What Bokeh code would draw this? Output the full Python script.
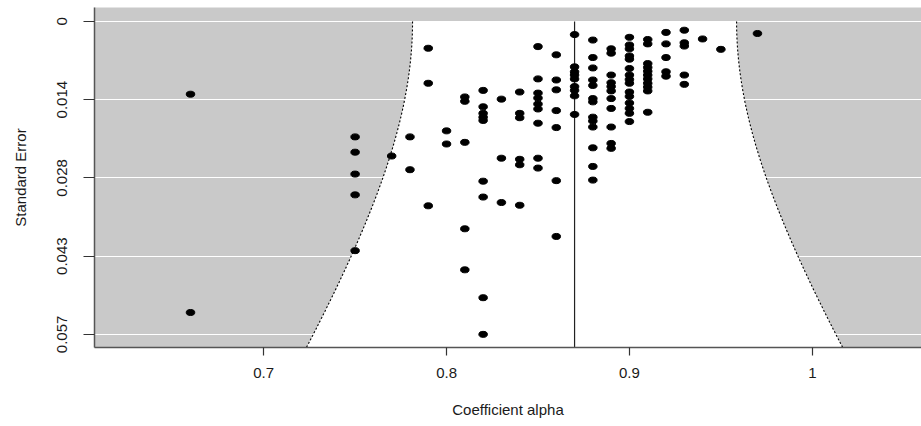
import numpy as np
from bokeh.plotting import figure
from bokeh.models import Range1d, FixedTicker, ColumnDataSource
from bokeh.embed import file_html
from bokeh.resources import INLINE

# ---- data: coefficient alpha columns and their standard errors ----
alpha_columns = [0.66, 0.75, 0.77, 0.78, 0.79, 0.80, 0.81, 0.82, 0.83, 0.84,
                 0.85, 0.86, 0.87, 0.88, 0.89, 0.90, 0.91, 0.92, 0.93, 0.94,
                 0.95, 0.97]
se_066 = [0.0133, 0.0532]
se_075 = [0.0211, 0.0239, 0.0279, 0.0317, 0.0419]
se_077 = [0.0246]
se_078 = [0.0211, 0.0271]
se_079 = [0.0049, 0.0113, 0.0337]
se_080 = [0.0200, 0.0224]
se_081 = [0.0138, 0.0146, 0.0221, 0.0379, 0.0454]
se_082 = [0.0126, 0.0156, 0.0168, 0.0175, 0.0181, 0.0292, 0.0321, 0.0505, 0.0572]
se_083 = [0.0142, 0.0250, 0.0331]
se_084 = [0.0129, 0.0168, 0.0176, 0.0252, 0.0262, 0.0336]
se_085 = [0.0046, 0.0105, 0.0131, 0.0140, 0.0151, 0.0160, 0.0186, 0.0250, 0.0268]
se_086 = [0.0061, 0.0107, 0.0125, 0.0163, 0.0194, 0.0291, 0.0393]
se_087 = [0.0024, 0.0083, 0.0092, 0.0098, 0.0105, 0.0119, 0.0126, 0.0136, 0.0170]
se_088 = [0.0034, 0.0066, 0.0085, 0.0107, 0.0117, 0.0141, 0.0147, 0.0175, 0.0182,
          0.0193, 0.0231, 0.0265, 0.0290]
se_089 = [0.0050, 0.0058, 0.0098, 0.0112, 0.0119, 0.0127, 0.0141, 0.0159, 0.0193,
          0.0223, 0.0232]
se_090 = [0.0029, 0.0043, 0.0050, 0.0063, 0.0069, 0.0086, 0.0098, 0.0106, 0.0113,
          0.0129, 0.0137, 0.0149, 0.0159, 0.0168, 0.0183]
se_091 = [0.0033, 0.0041, 0.0077, 0.0084, 0.0091, 0.0098, 0.0105, 0.0113, 0.0120,
          0.0127, 0.0166]
se_092 = [0.0020, 0.0041, 0.0066, 0.0092, 0.0100]
se_093 = [0.0016, 0.0039, 0.0045, 0.0098, 0.0115]
se_094 = [0.0032]
se_095 = [0.0051]
se_097 = [0.0022]
se_columns = [se_066, se_075, se_077, se_078, se_079, se_080, se_081, se_082,
              se_083, se_084, se_085, se_086, se_087, se_088, se_089, se_090,
              se_091, se_092, se_093, se_094, se_095, se_097]

# model summary (random-effects estimate and between-study SD)
estimate = 0.87
tau = 0.0452

x_ticks = [0.7, 0.8, 0.9, 1.0]
x_tick_labels = ["0.7", "0.8", "0.9", "1"]
y_ticks = [0.0, 0.0143, 0.0286, 0.0429, 0.0572]
y_tick_labels = ["0", "0.014", "0.028", "0.043", "0.057"]

alpha_vals, se_vals = [], []
for a, ses in zip(alpha_columns, se_columns):
    for s in ses:
        alpha_vals.append(a)
        se_vals.append(s)
src = ColumnDataSource(dict(alpha=alpha_vals, se=se_vals))

FONT = "Liberation Sans"
GREY = "#c9c9c9"
Y_BOTTOM = 0.0596
Y_TOP = -0.00255

p = figure(width=921, height=420, output_backend="svg", toolbar_location=None,
           x_range=Range1d(0.6075, 1.0597), y_range=Range1d(Y_BOTTOM, Y_TOP),
           min_border_left=94, min_border_right=0, min_border_top=7,
           min_border_bottom=72)
p.background_fill_color = GREY
p.border_fill_color = "white"
p.outline_line_color = None

# grid (white horizontal lines at the y ticks)
p.xgrid.visible = False
p.ygrid.ticker = FixedTicker(ticks=y_ticks)
p.ygrid.grid_line_color = "white"
p.ygrid.grid_line_width = 1.2

# funnel region
se_grid = np.linspace(0.0, 0.0625, 120)
half = 1.96 * np.sqrt(se_grid ** 2 + tau ** 2)
left = estimate - half
right = estimate + half
p.patch(np.concatenate([left, right[::-1]]), np.concatenate([se_grid, se_grid[::-1]]),
        fill_color="white", line_color=None)
p.line(left, se_grid, line_color="black", line_width=1.1, line_dash="2 2")
p.line(right, se_grid, line_color="black", line_width=1.1, line_dash="2 2")
p.segment(x0=[estimate], y0=[0.0], x1=[estimate], y1=[0.0625],
          line_color="#222222", line_width=1.2)

# studies
p.ellipse(x="alpha", y="se", width=8.5, height=6, width_units="screen",
          height_units="screen", fill_color="black", line_color="black", source=src)

# axes
for ax in (p.xaxis[0], p.yaxis[0]):
    ax.axis_line_color = "#555555"
    ax.axis_line_width = 1.5
    ax.major_tick_line_color = "#333333"
    ax.major_tick_line_width = 1.2
    ax.major_tick_in = 0
    ax.minor_tick_line_color = None
    ax.major_label_text_font = FONT
    ax.major_label_text_font_size = "15px"
    ax.major_label_text_color = "#1a1a1a"
    ax.axis_label_text_font = FONT
    ax.axis_label_text_font_size = "15px"
    ax.axis_label_text_font_style = "normal"
    ax.axis_label_text_color = "#1a1a1a"

p.xaxis.ticker = FixedTicker(ticks=x_ticks)
p.xaxis.major_label_overrides = dict(zip(x_ticks, x_tick_labels))
p.xaxis.major_tick_out = 8
p.xaxis.major_label_standoff = 12
p.xaxis.axis_label = "Coefficient alpha"
p.xaxis.axis_label_standoff = 20

p.yaxis.ticker = FixedTicker(ticks=y_ticks)
p.yaxis.major_label_orientation = "vertical"
p.yaxis.major_label_overrides = dict(zip(y_ticks, y_tick_labels))
p.yaxis.major_tick_out = 11
p.yaxis.major_label_standoff = 16
p.yaxis.axis_label = "Standard Error"
p.yaxis.axis_label_standoff = 26

open("out.html", "w").write(file_html(p, INLINE))
